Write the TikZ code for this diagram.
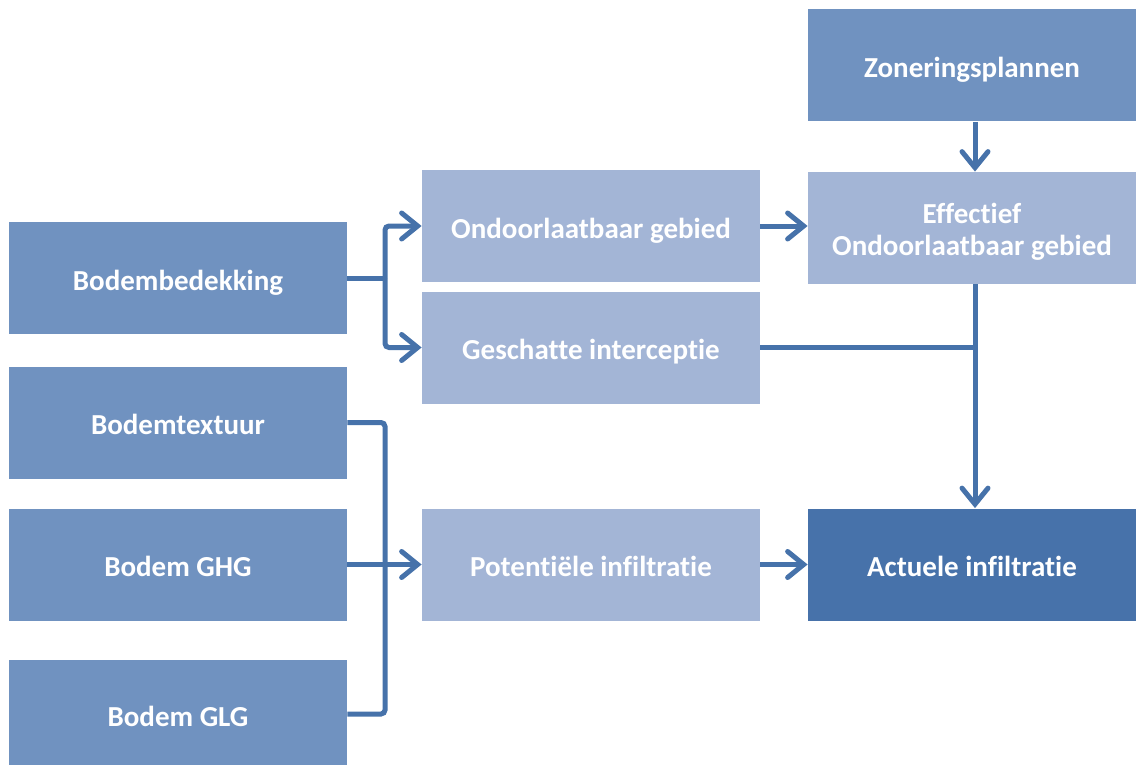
\documentclass[tikz,border=0pt]{standalone}
\usepackage{fontspec}
\setmainfont{Carlito}[Ligatures={NoCommon}]
\usetikzlibrary{arrows.meta,calc}
\definecolor{boxmid}{HTML}{7092C0}
\definecolor{boxlight}{HTML}{A3B5D6}
\definecolor{boxdark}{HTML}{4772AA}
\definecolor{linkblue}{HTML}{4672AA}
\begin{document}
\begin{tikzpicture}[x=0.5pt,y=-0.5pt,
  box/.style={rectangle, draw=none, text=white, font=\bfseries\fontsize{14.5}{16.5}\selectfont,
    align=center, inner sep=0pt, text height=12pt, text depth=0pt,
    minimum width=169pt, minimum height=56pt},
  wide/.style={box, minimum width=164pt},
  mid/.style={fill=boxmid},
  light/.style={fill=boxlight},
  dark/.style={fill=boxdark},
  link/.style={draw=linkblue, line width=2.5pt, rounded corners=2pt},
  arr/.style={link, -{Straight Barb[length=8pt,width=13pt,line cap=round]}}]
\fill[white] (0,0) rectangle (1136,765);
\useasboundingbox (0,0) rectangle (1136,765);

% source boxes on the left
\node[box, mid] (bb)  at (178,278)   {Bodembedekking};
\node[box, mid] (bt)  at (178,422.5) {Bodemtextuur};
\node[box, mid] (ghg) at (178,564.5) {Bodem GHG};
\node[box, mid, minimum height=54pt] (glg) at (178,714) {Bodem GLG};

% intermediate results
\node[box, light] (ond) at (591,226)   {Ondoorlaatbaar gebied};
\node[box, light] (ges) at (591,347.5) {Geschatte interceptie};
\node[box, light] (pot) at (591,564.5) {Potentiële infiltratie};

% right column
\node[wide, mid]   (zon) at (972,65.5)  {Zoneringsplannen};
\node[wide, light, text height=28pt] (eff) at (972,228) {Effectief\\Ondoorlaatbaar gebied};
\node[wide, dark]  (act) at (972,564.5) {Actuele infiltratie};

% junction points
\coordinate (j1) at (385,278);
\coordinate (j2) at (385,564.5);
\path ([xshift=1.5pt]eff.south) coordinate (e0);
\coordinate (j3) at (ges.east -| e0);

% land cover splits into two branches
\draw[link] (bb.east) -- (j1);
\draw[arr] (j1) |- (ond.west);
\draw[arr] (j1) |- (ges.west);

% soil inputs merge into potential infiltration
\draw[link] (bt.east) -| (j2) |- (glg.east);
\draw[arr] (ghg.east) -- (pot.west);

% right-hand flow
\draw[arr] (ond.east) -- (ond.east -| eff.west);
\draw[arr] ([xshift=1.5pt]zon.south) -- ([xshift=1.5pt]eff.north);
\draw[arr] (e0) -- ([xshift=1.5pt]act.north);
\draw[link] (ges.east) -- (j3);
\draw[arr] (pot.east) -- (act.west);
\end{tikzpicture}
\end{document}
